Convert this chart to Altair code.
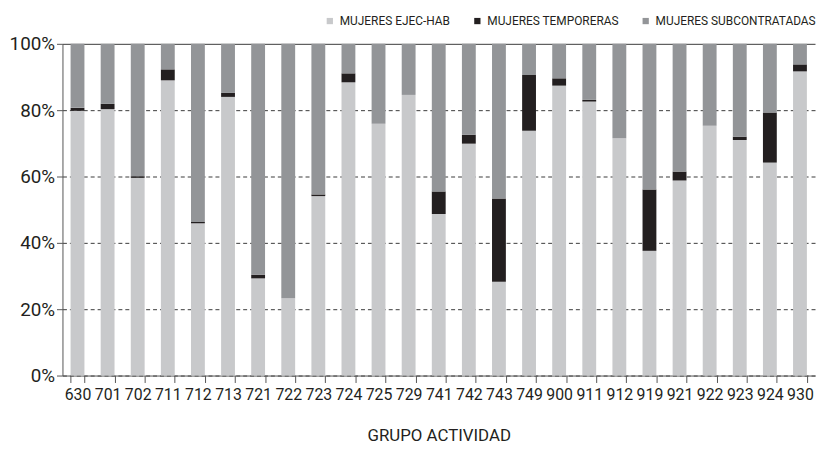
import altair as alt
import pandas as pd

categories = ["630", "701", "702", "711", "712", "713", "721", "722", "723", "724",
              "725", "729", "741", "742", "743", "749", "900", "911", "912", "919",
              "921", "922", "923", "924", "930"]
ejec_hab = [79.8, 80.3, 59.6, 89.0, 45.9, 84.0, 29.3, 23.3, 54.1, 88.4,
            75.9, 84.6, 48.7, 69.9, 28.3, 73.8, 87.4, 82.6, 71.5, 37.6,
            58.8, 75.3, 71.0, 64.2, 91.7]
temporeras = [0.9, 1.6, 0.5, 3.3, 0.4, 1.2, 1.1, 0.0, 0.5, 2.7,
              0.0, 0.0, 6.8, 2.7, 25.1, 16.8, 2.2, 0.5, 0.0, 18.5,
              2.7, 0.0, 1.0, 15.1, 2.1]
subcontratadas = [19.3, 18.1, 39.9, 7.7, 53.7, 14.8, 69.6, 76.7, 45.4, 8.9,
                  24.1, 15.4, 44.5, 27.4, 46.6, 9.4, 10.4, 16.9, 28.5, 43.9,
                  38.5, 24.7, 28.0, 20.7, 6.2]
series = ["MUJERES EJEC-HAB", "MUJERES TEMPORERAS", "MUJERES SUBCONTRATADAS"]
colors = ["#c8c9cb", "#231f20", "#939598"]

rows = []
for i, c in enumerate(categories):
    for k, vals in enumerate([ejec_hab, temporeras, subcontratadas]):
        rows.append({"grupo": c, "serie": series[k], "orden": k, "valor": vals[i]})
df = pd.DataFrame(rows)

FONT = "Roboto"

chart = alt.Chart(df).mark_bar().encode(
    x=alt.X("grupo:N", sort=categories, title="GRUPO ACTIVIDAD",
            scale=alt.Scale(paddingInner=0.54, paddingOuter=0.27),
            axis=alt.Axis(labelAngle=0, labelFontSize=16, tickBand="extent", tickSize=7,
                          labelPadding=4, titleFontSize=17, titleFontWeight="normal",
                          titlePadding=26, domainColor="#555555", tickColor="#555555",
                          labelColor="#231f20", titleColor="#231f20", grid=False,
                          labelOverlap=False)),
    y=alt.Y("valor:Q", stack="normalize", title=None,
            scale=alt.Scale(domain=[0, 1], nice=False),
            axis=alt.Axis(format=".0%", values=[0, 0.2, 0.4, 0.6, 0.8, 1.0],
                          labelFontSize=19, tickSize=6, labelPadding=2,
                          domainColor="#555555", tickColor="#555555", labelColor="#231f20",
                          grid=True, gridColor="#3a3a3a", gridOpacity=1,
                          gridDash={"condition": {"test": "datum.value >= 1", "value": []},
                                    "value": [4, 3]})),
    color=alt.Color("serie:N", sort=series,
                    scale=alt.Scale(domain=series, range=colors),
                    legend=alt.Legend(title=None, orient="none", direction="horizontal",
                                      legendX=264, legendY=-29, symbolType="square",
                                      symbolSize=40, symbolStrokeWidth=0, labelFontSize=12,
                                      labelOffset=4, columnPadding=21, labelColor="#231f20",
                                      labelLimit=300)),
    order=alt.Order("orden:Q", sort="ascending"),
).properties(
    width=760, height=335, autosize="none",
    padding={"left": 55, "top": 34, "right": 2, "bottom": 72},
).configure(font=FONT).configure_view(stroke=None)

chart.save("out.html", embed_options={"renderer": "svg", "actions": False})
